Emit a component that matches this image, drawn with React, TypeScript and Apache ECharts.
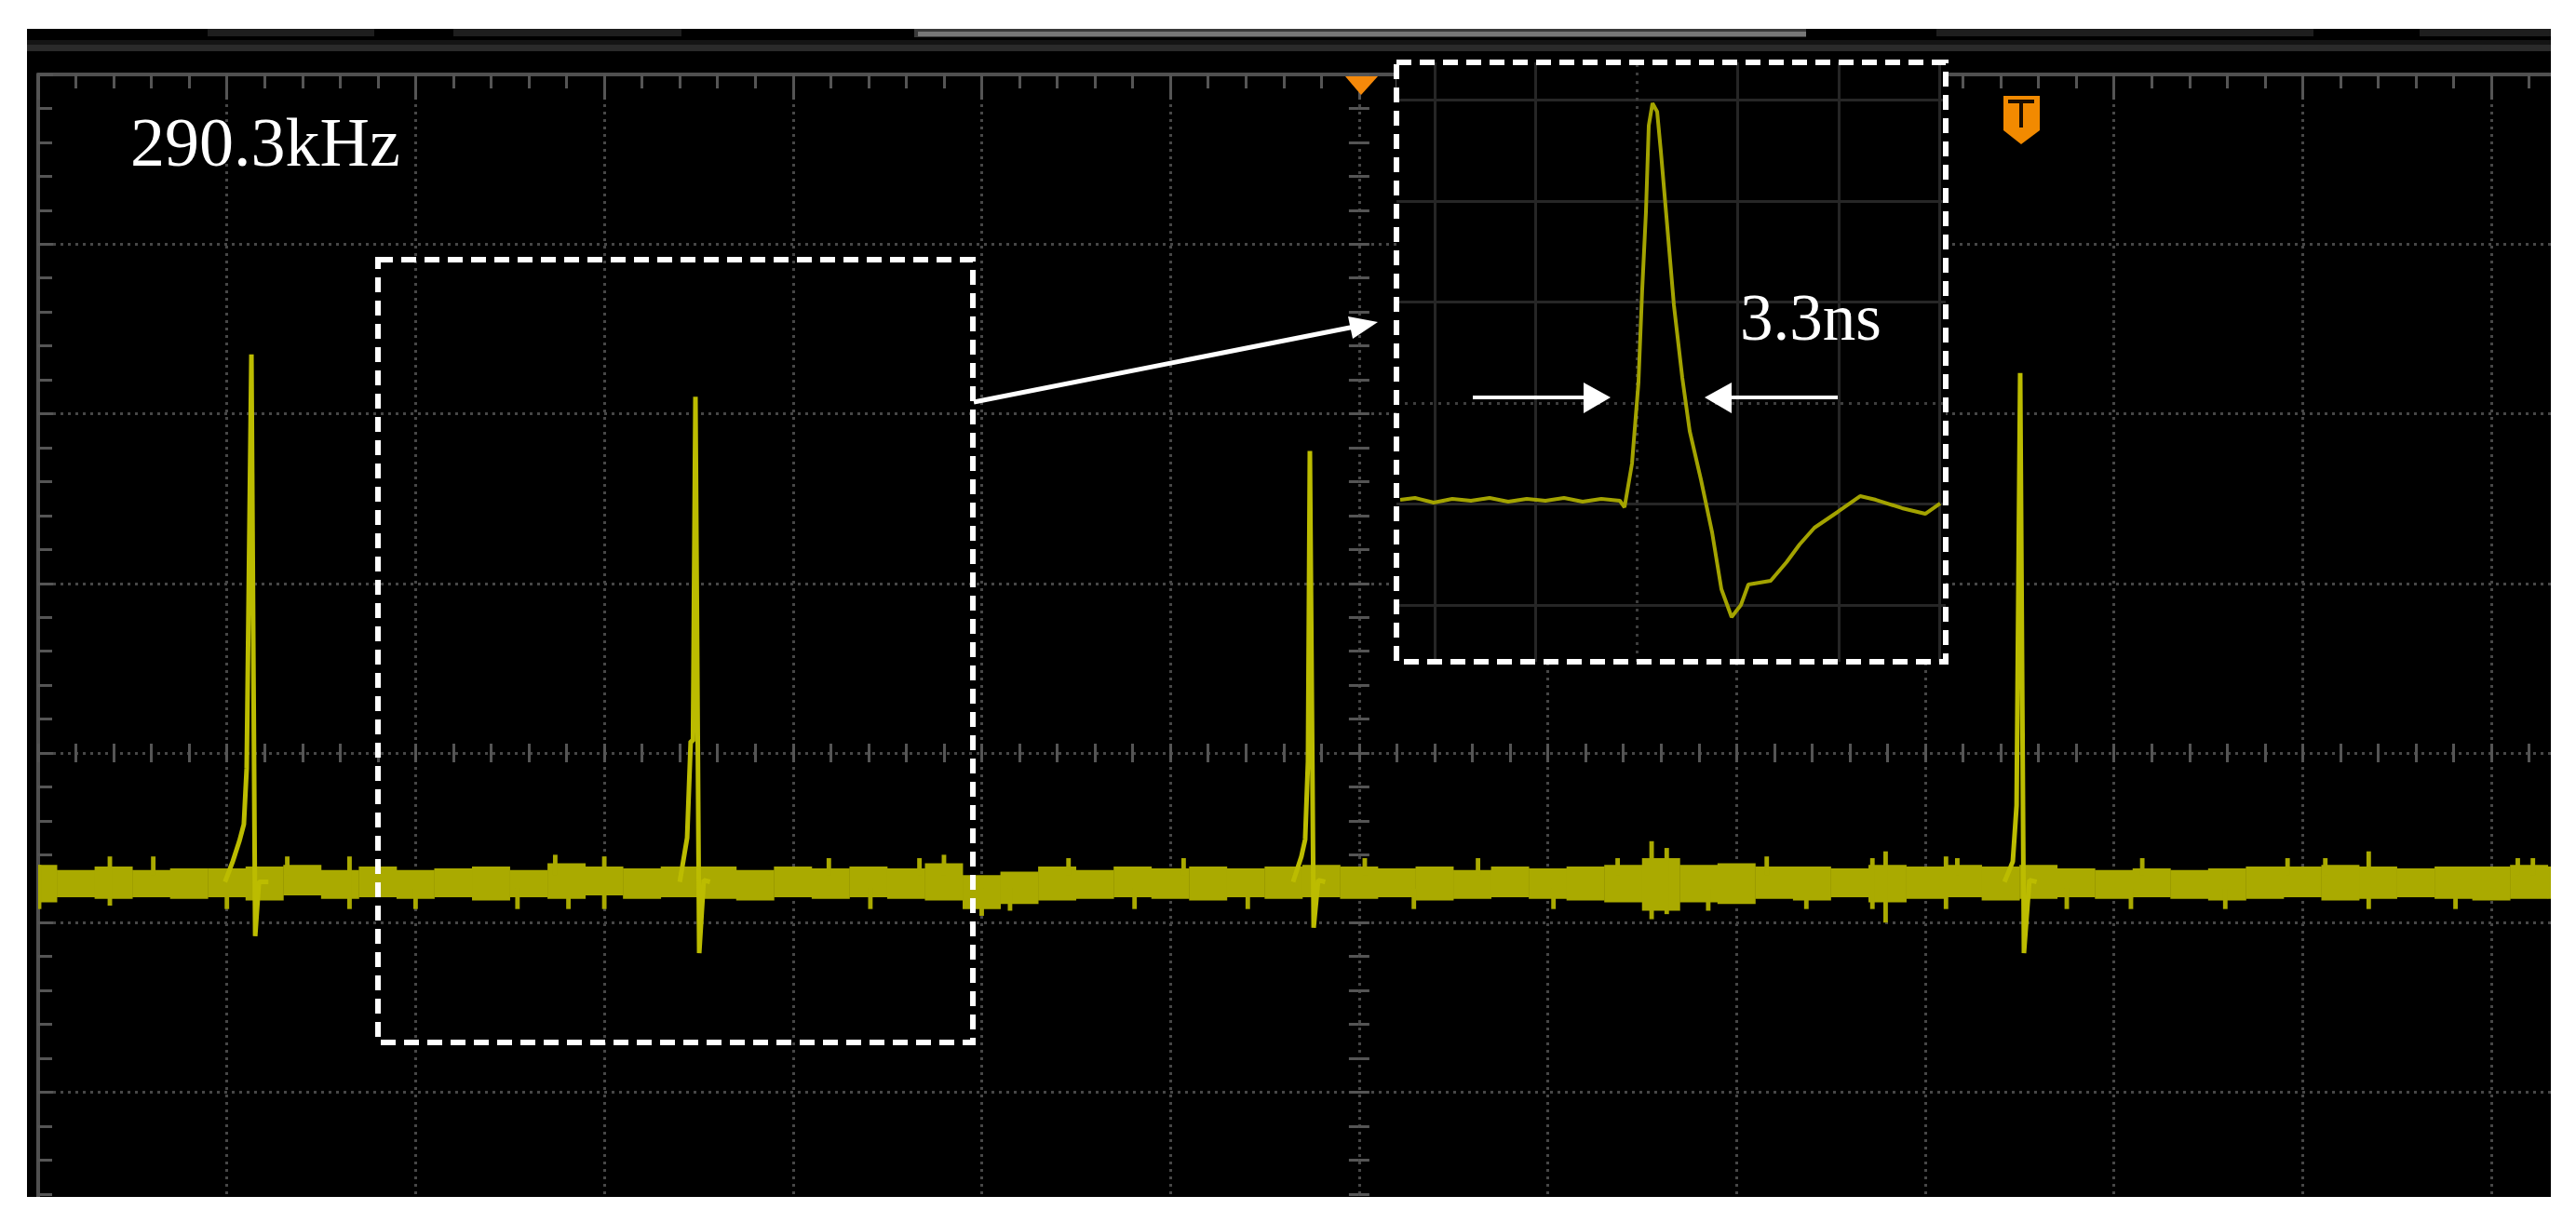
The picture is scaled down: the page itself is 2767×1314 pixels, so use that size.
import React, { useEffect, useRef } from "react";
import * as echarts from "echarts";

// ---------- data (units: screen divisions) ----------
const freqLabel = "290.3kHz";
const widthLabel = "3.3ns";

// noise band envelope of the main trace
const bandX = [
  0, 0.2, 0.4, 0.6, 0.8, 1.0, 1.2, 1.4, 1.6, 1.8,
  2.0, 2.2, 2.4, 2.6, 2.8, 3.0, 3.2, 3.4, 3.6, 3.8,
  4.0, 4.2, 4.4, 4.6, 4.8, 5.0, 5.2, 5.4, 5.6, 5.8,
  6.0, 6.2, 6.4, 6.6, 6.8, 7.0, 7.2, 7.4, 7.6, 7.8,
  8.0, 8.2, 8.4, 8.6, 8.8, 9.0, 9.2, 9.4, 9.6, 9.8,
  10.0, 10.2, 10.4, 10.6, 10.8, 11.0, 11.2, 11.4, 11.6, 11.8,
  12.0, 12.2, 12.4, 12.6, 12.8, 13.0, 13.2, 13.4,
];
const bandUpper = [
  -0.66, -0.69, -0.67, -0.69, -0.68, -0.68, -0.67, -0.66, -0.69, -0.67,
  -0.69, -0.68, -0.67, -0.69, -0.65, -0.67, -0.68, -0.67, -0.67, -0.69,
  -0.67, -0.68, -0.67, -0.68, -0.65, -0.72, -0.70, -0.67, -0.69, -0.67,
  -0.68, -0.67, -0.68, -0.67, -0.66, -0.67, -0.68, -0.67, -0.69, -0.67,
  -0.68, -0.67, -0.66, -0.62, -0.66, -0.65, -0.67, -0.67, -0.68, -0.66,
  -0.67, -0.66, -0.67, -0.66, -0.68, -0.69, -0.68, -0.69, -0.68, -0.67,
  -0.67, -0.66, -0.67, -0.68, -0.67, -0.67, -0.66, -0.67,
];
const bandLower = [
  -0.88, -0.85, -0.86, -0.85, -0.86, -0.85, -0.87, -0.84, -0.86, -0.85,
  -0.86, -0.85, -0.87, -0.85, -0.86, -0.84, -0.86, -0.85, -0.86, -0.87,
  -0.85, -0.86, -0.85, -0.86, -0.87, -0.92, -0.89, -0.87, -0.86, -0.85,
  -0.86, -0.87, -0.85, -0.86, -0.85, -0.86, -0.85, -0.87, -0.86, -0.85,
  -0.86, -0.87, -0.88, -0.93, -0.88, -0.89, -0.86, -0.87, -0.85, -0.88,
  -0.86, -0.85, -0.87, -0.86, -0.85, -0.86, -0.85, -0.86, -0.87, -0.86,
  -0.85, -0.87, -0.86, -0.85, -0.86, -0.87, -0.86, -0.86,
];

// narrow noise glitches sticking out of the band
const glitchX = [
  0.005, 0.38, 0.61, 1.0, 1.32, 1.65, 2.0, 2.54, 2.74, 2.81,
  3.0, 4.19, 4.41, 4.67, 4.80, 5.0, 5.15, 5.46, 5.81, 6.07,
  6.41, 7.03, 7.29, 7.63, 8.03, 8.37, 8.55, 8.63, 8.85, 9.16,
  9.37, 9.72, 9.79, 10.11, 10.17, 10.75, 11.09, 11.15, 11.59, 11.92,
  12.12, 12.35, 12.81, 13.14, 13.22,
];
const glitchHi = [
  -0.66, -0.61, -0.61, -0.80, -0.61, -0.61, -0.80, -0.80, -0.60, -0.80,
  -0.61, -0.62, -0.80, -0.62, -0.60, -0.80, -0.80, -0.62, -0.80, -0.62,
  -0.80, -0.62, -0.80, -0.62, -0.80, -0.62, -0.52, -0.56, -0.80, -0.61,
  -0.80, -0.62, -0.58, -0.61, -0.62, -0.80, -0.80, -0.62, -0.80, -0.62,
  -0.62, -0.58, -0.80, -0.62, -0.62,
];
const glitchLo = [
  -0.92, -0.90, -0.72, -0.92, -0.72, -0.92, -0.92, -0.92, -0.72, -0.92,
  -0.92, -0.72, -0.92, -0.72, -0.72, -0.96, -0.93, -0.72, -0.92, -0.72,
  -0.92, -0.72, -0.92, -0.72, -0.92, -0.72, -0.98, -0.95, -0.93, -0.72,
  -0.92, -0.92, -1.00, -0.92, -0.72, -0.92, -0.92, -0.72, -0.92, -0.72,
  -0.72, -0.92, -0.92, -0.72, -0.72,
];

// the four pulses
const pulse1X = [0.99, 1.031, 1.066, 1.09, 1.105, 1.13, 1.15, 1.17, 1.22];
const pulse1Y = [-0.76, -0.64, -0.52, -0.42, -0.09, 2.35, -1.08, -0.76, -0.76];
const pulse2X = [3.40, 3.439, 3.458, 3.470, 3.483, 3.503, 3.527, 3.56];
const pulse2Y = [-0.76, -0.50, 0.07, 0.07, 2.10, -1.18, -0.75, -0.76];
const pulse3X = [6.65, 6.694, 6.714, 6.729, 6.739, 6.759, 6.783, 6.82];
const pulse3Y = [-0.76, -0.61, -0.51, -0.05, 1.78, -1.03, -0.75, -0.76];
const pulse4X = [10.42, 10.464, 10.484, 10.503, 10.523, 10.552, 10.59];
const pulse4Y = [-0.76, -0.64, -0.31, 2.24, -1.18, -0.75, -0.76];

// zoomed pulse in the inset (inset divisions)
const insetX = [
  -2.341, -2.194, -2.009, -1.825, -1.641, -1.456, -1.272, -1.088, -0.903, -0.719,
  -0.535, -0.350, -0.166, -0.120, -0.046, 0.018, 0.055, 0.092, 0.120, 0.157,
  0.203, 0.240, 0.295, 0.369, 0.452, 0.525, 0.636, 0.747, 0.839, 0.940,
  1.032, 1.106, 1.327, 1.484, 1.613, 1.760, 1.991, 2.212, 2.369, 2.627,
  2.857, 3.005,
];
const insetY = [
  -0.959, -0.940, -0.986, -0.949, -0.968, -0.940, -0.977, -0.949, -0.968, -0.940,
  -0.977, -0.949, -0.968, -1.032, -0.599, 0.203, 1.124, 1.889, 2.747, 2.968,
  2.885, 2.488, 1.843, 0.968, 0.249, -0.276, -0.756, -1.281, -1.843, -2.120,
  -2.000, -1.797, -1.760, -1.576, -1.401, -1.235, -1.078, -0.922, -0.959, -1.041,
  -1.097, -0.995,
];
const insetGridX = [-2, -1, 1, 2, 3];
const insetGridY = [-2, -1, 1, 2, 3];
const insetCenter = [0];

// ---------- styles ----------
const BORDER = "#505050";
const DOT = { color: "#474747", width: 3, type: [3, 5] as any };
const TICK = { color: "#555555", width: 3 };
const TRACE = "#aaaa00";

const rect = (x: number, y: number, w: number, h: number, fill: string, z = 5) => ({
  type: "rect",
  shape: { x, y, width: w, height: h },
  style: { fill },
  z,
  silent: true,
});

const blockSeries = (name: string, xs: number[], his: number[], los: number[], half: number) => ({
  type: "custom",
  name,
  xAxisIndex: 0,
  yAxisIndex: 0,
  data: xs.map((x, i) => [x, his[i], los[i]]),
  encode: { x: 0, y: [1, 2] },
  clip: true,
  silent: true,
  z: 2,
  renderItem: (_p: any, api: any) => {
    const x = api.value(0);
    const a = api.coord([x - half, api.value(1)]);
    const b = api.coord([x + half, api.value(2)]);
    return {
      type: "rect",
      shape: { x: a[0], y: a[1], width: b[0] - a[0], height: b[1] - a[1] },
      style: { fill: TRACE },
    };
  },
});

const CW = 2900;
const CH = 1400;

export default function App() {
  const ref = useRef<HTMLDivElement>(null);

  useEffect(() => {
    if (!ref.current) return;
    const chart = echarts.init(ref.current, undefined, { renderer: "svg" });

    const centerAxisX = (position: string, offset: number) => ({
      type: "value",
      gridIndex: 0,
      position,
      offset,
      min: 0,
      max: 14,
      interval: 1,
      axisLine: { show: false, onZero: false },
      axisTick: { show: true, inside: false, length: 10, lineStyle: TICK },
      minorTick: { show: true, splitNumber: 5, length: 10, lineStyle: TICK },
      axisLabel: { show: false },
      splitLine: { show: false },
    });
    const centerAxisY = (position: string, offset: number) => ({
      type: "value",
      gridIndex: 0,
      position,
      offset,
      min: -3,
      max: 4,
      interval: 1,
      axisLine: { show: false, onZero: false },
      axisTick: { show: true, inside: false, length: 11, lineStyle: TICK },
      minorTick: { show: true, splitNumber: 5, length: 11, lineStyle: TICK },
      axisLabel: { show: false },
      splitLine: { show: false },
    });

    const pulses = [
      [pulse1X, pulse1Y],
      [pulse2X, pulse2Y],
      [pulse3X, pulse3Y],
      [pulse4X, pulse4Y],
    ];

    const insetLineStyle = { color: "#262626", width: 3, type: "solid" };
    const insetCenterStyle = { color: "#3e3e3e", width: 3, type: [3, 6] };

    const option: any = {
      animation: false,
      backgroundColor: "#000000",
      grid: [
        { left: 41, top: 80, width: 2837.8, height: 1275.75, outerBoundsMode: "none", containLabel: false },
        { left: 1500, top: 67, width: 590, height: 644, outerBoundsMode: "none", containLabel: false },
      ],
      xAxis: [
        {
          type: "value",
          gridIndex: 0,
          position: "top",
          min: 0,
          max: 14,
          interval: 1,
          axisLine: { show: true, onZero: false, lineStyle: { color: BORDER, width: 4 } },
          axisTick: { show: true, inside: true, length: 27, lineStyle: TICK },
          minorTick: { show: true, splitNumber: 5, length: 15, lineStyle: TICK },
          axisLabel: { show: false },
          splitLine: { show: true, lineStyle: DOT },
        },
        centerAxisX("bottom", -546.75),
        centerAxisX("top", -729),
        { type: "value", gridIndex: 1, min: -2.378, max: 3.06, show: false },
      ],
      yAxis: [
        {
          type: "value",
          gridIndex: 0,
          position: "left",
          min: -3,
          max: 4,
          interval: 1,
          axisLine: { show: true, onZero: false, lineStyle: { color: BORDER, width: 4 } },
          axisTick: { show: true, inside: true, length: 16, lineStyle: TICK },
          minorTick: { show: true, splitNumber: 5, length: 15, lineStyle: TICK },
          axisLabel: { show: false },
          splitLine: { show: true, lineStyle: DOT },
        },
        centerAxisY("left", -1418.9),
        centerAxisY("right", -1418.9),
        { type: "value", gridIndex: 1, min: -2.562, max: 3.373, show: false },
      ],
      series: [
        blockSeries("band", bandX, bandUpper, bandLower, 0.101),
        blockSeries("glitch", glitchX, glitchHi, glitchLo, 0.012),
        ...pulses.map(([xs, ys], k) => ({
          type: "line",
          name: "pulse" + (k + 1),
          xAxisIndex: 0,
          yAxisIndex: 0,
          data: xs.map((x, i) => [x, ys[i]]),
          symbol: "none",
          lineStyle: { color: "#bcbc00", width: 5 },
          silent: true,
          z: 3,
        })),
        {
          type: "line",
          name: "inset",
          xAxisIndex: 3,
          yAxisIndex: 3,
          data: insetX.map((x, i) => [x, insetY[i]]),
          symbol: "none",
          lineStyle: { color: "#a3a300", width: 4 },
          silent: true,
          z: 3,
          markLine: {
            silent: true,
            symbol: "none",
            z: 2,
            label: { show: false },
            data: [
              ...insetGridX.map((v) => ({ xAxis: v, lineStyle: insetLineStyle })),
              ...insetGridY.map((v) => ({ yAxis: v, lineStyle: insetLineStyle })),
              ...insetCenter.map((v) => ({ xAxis: v, lineStyle: insetCenterStyle })),
              ...insetCenter.map((v) => ({ yAxis: v, lineStyle: insetCenterStyle })),
            ],
          },
        },
      ],
      graphic: [
        // top status bar
        rect(223, 31, 179, 8, "#1e1e1e"),
        rect(487, 31, 245, 8, "#1e1e1e"),
        rect(982, 31, 958, 9, "#3a3a3a"),
        rect(986, 34, 954, 5, "#777777"),
        rect(2080, 31, 405, 8, "#1e1e1e"),
        rect(2599, 31, 141, 8, "#1e1e1e"),
        rect(29, 43, 2711, 5, "#141414"),
        rect(29, 48, 2711, 7, "#2a2a2a"),
        // inset background
        rect(1500, 67, 590, 644, "#000000", 1),
        // trigger markers
        {
          type: "polygon",
          shape: { points: [[1445, 82], [1480, 82], [1462, 102]] },
          style: { fill: "#f5890a" },
          z: 10,
        },
        {
          type: "polygon",
          shape: { points: [[2152, 103], [2191, 103], [2191, 140], [2171, 155], [2152, 140]] },
          style: { fill: "#f28a00" },
          z: 10,
        },
        rect(2157, 107, 28, 4, "#1a0d00", 11),
        rect(2169, 109, 4, 28, "#1a0d00", 11),
        // dashed boxes
        {
          type: "rect",
          shape: { x: 406, y: 279, width: 639, height: 841 },
          style: { fill: "none", stroke: "#ffffff", lineWidth: 6, lineDash: [16, 9] },
          z: 50,
        },
        {
          type: "rect",
          shape: { x: 1500, y: 67, width: 590, height: 644 },
          style: { fill: "none", stroke: "#ffffff", lineWidth: 6, lineDash: [16, 9] },
          z: 50,
        },
        // big arrow
        {
          type: "line",
          shape: { x1: 1046, y1: 432, x2: 1455, y2: 351 },
          style: { stroke: "#ffffff", lineWidth: 5 },
          z: 50,
        },
        {
          type: "polygon",
          shape: { points: [[1480, 346], [1453, 364], [1448, 340]] },
          style: { fill: "#ffffff" },
          z: 50,
        },
        // inset width arrows
        {
          type: "line",
          shape: { x1: 1582, y1: 427, x2: 1710, y2: 427 },
          style: { stroke: "#ffffff", lineWidth: 4 },
          z: 50,
        },
        {
          type: "polygon",
          shape: { points: [[1701, 411], [1730, 427], [1701, 444]] },
          style: { fill: "#ffffff" },
          z: 50,
        },
        {
          type: "line",
          shape: { x1: 1974, y1: 427, x2: 1850, y2: 427 },
          style: { stroke: "#ffffff", lineWidth: 4 },
          z: 50,
        },
        {
          type: "polygon",
          shape: { points: [[1860, 411], [1831, 427], [1860, 444]] },
          style: { fill: "#ffffff" },
          z: 50,
        },
        // texts
        {
          type: "text",
          x: 140,
          y: 153,
          style: {
            text: freqLabel,
            fill: "#ffffff",
            fontSize: 74,
            fontFamily: "Liberation Serif",
            align: "left",
            verticalAlign: "middle",
          },
          z: 50,
        },
        {
          type: "text",
          x: 1869,
          y: 341,
          style: {
            text: widthLabel,
            fill: "#ffffff",
            fontSize: 71,
            fontFamily: "Liberation Serif",
            align: "left",
            verticalAlign: "middle",
          },
          z: 50,
        },
        // white page margins around the scope screen
        rect(0, 0, CW, 31, "#ffffff", 100),
        rect(0, 0, 29, CH, "#ffffff", 100),
        rect(2740, 0, CW - 2740, CH, "#ffffff", 100),
        rect(0, 1286, CW, CH - 1286, "#ffffff", 100),
      ],
    };

    chart.setOption(option);
    return () => {
      chart.dispose();
    };
  }, []);

  return (
    <div
      style={{
        position: "absolute",
        left: 0,
        top: 0,
        width: 2767,
        height: 1314,
        overflow: "hidden",
        background: "#ffffff",
      }}
    >
      <div ref={ref} style={{ width: CW, height: CH }} />
    </div>
  );
}
